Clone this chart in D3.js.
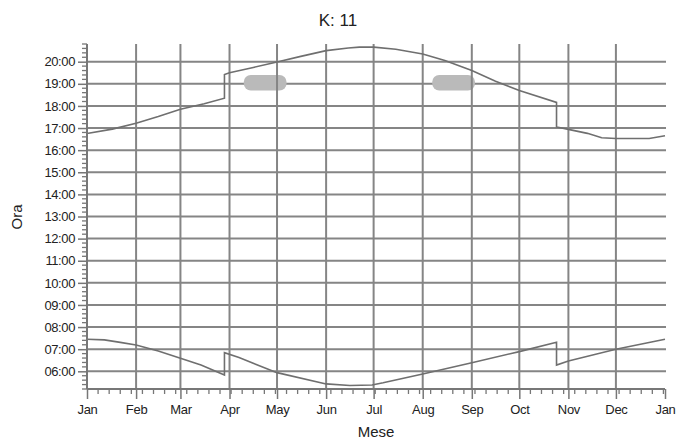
<!DOCTYPE html>
<html><head><meta charset="utf-8">
<script src="https://cdn.jsdelivr.net/npm/d3@7"></script>
<style>body{margin:0;background:#fff}text{font-family:"Liberation Sans",Arial,sans-serif;fill:#222}</style>
</head><body><svg id="c" width="680" height="441"></svg>
<script>
const titleText = "K: 11";
const xTitle = "Mese";
const yTitle = "Ora";
const monthLabels = ["Jan","Feb","Mar","Apr","May","Jun","Jul","Aug","Sep","Oct","Nov","Dec","Jan"];
const monthStartDays = [0,31,59,90,120,151,181,212,243,273,304,334,365];
const hourTicks = [6,7,8,9,10,11,12,13,14,15,16,17,18,19,20];

const sunsetDays  = [0,16,31,45,59,74,86.8,86.8,90,105,120,135,151,165,172,181,195,212,226,243,258,273,296.5,296.5,304,316,325,334,355,365];
const sunsetHours = [16.75,16.95,17.22,17.52,17.85,18.1,18.35,19.42,19.5,19.74,19.99,20.24,20.5,20.62,20.66,20.66,20.56,20.35,20.05,19.6,19.12,18.7,18.16,17.05,16.94,16.76,16.56,16.53,16.53,16.65];

const sunriseDays  = [0,11,21,31,45,59,72,86.8,86.8,96,120,151,166,180,187,212,243,273,296.5,296.5,304,334,365];
const sunriseHours = [7.45,7.42,7.31,7.19,6.92,6.59,6.28,5.83,6.84,6.62,5.94,5.43,5.36,5.38,5.48,5.88,6.39,6.89,7.31,6.28,6.47,7.0,7.45];

const bandStartDays = [99,218];
const bandEndDays   = [126,245];
const bandLowHours  = [18.7,18.7];
const bandHighHours = [19.4,19.4];

const svg = d3.select("#c");
const L = 87, R = 665, T = 44, B = 389;
const x = d3.scaleLinear().domain([0,365]).range([L,R]);
const y = d3.scaleLinear().domain([5.2,20.8]).range([B,T]);
const gridColor = "#858585";

// horizontal grid
svg.append("g").selectAll("line").data(hourTicks).join("line")
  .attr("x1",L).attr("x2",R+1).attr("y1",d=>y(d)).attr("y2",d=>y(d))
  .attr("stroke",gridColor).attr("stroke-width",2);

// bands
svg.append("g").selectAll("rect").data(bandStartDays).join("rect")
  .attr("x",(d,i)=>x(d)).attr("width",(d,i)=>x(bandEndDays[i])-x(d))
  .attr("y",(d,i)=>y(bandHighHours[i])).attr("height",(d,i)=>y(bandLowHours[i])-y(bandHighHours[i]))
  .attr("rx",7).attr("ry",7).attr("fill","#bababa");

// vertical grid
svg.append("g").selectAll("line").data(monthStartDays.slice(1,-1)).join("line")
  .attr("x1",d=>x(d)).attr("x2",d=>x(d)).attr("y1",T).attr("y2",B)
  .attr("stroke",gridColor).attr("stroke-width",2);

// curves
const line = d3.line().x(d=>x(d[0])).y(d=>y(d[1]));
[[sunsetDays,sunsetHours],[sunriseDays,sunriseHours]].forEach(([ds,hs])=>{
  svg.append("path").datum(ds.map((d,i)=>[d,hs[i]])).attr("d",line)
    .attr("fill","none").attr("stroke","#6f6f6f").attr("stroke-width",1.6);
});

// minor ticks
const minorY = d3.range(26,105).map(k=>k/5).filter(v=>Math.abs(v-Math.round(v))>1e-6);
const minorX = d3.range(7,365,7).filter(d=>!monthStartDays.includes(d));

// y axis
const yAxis = svg.append("g").attr("transform",`translate(${L},0)`)
  .call(d3.axisLeft(y).tickValues(hourTicks).tickSize(9).tickPadding(3)
    .tickFormat(h=>String(h).padStart(2,"0")+":00"));
yAxis.select(".domain").remove();
yAxis.selectAll("text").style("font-size","13px").attr("fill","#222").style("letter-spacing","-0.4px");
yAxis.selectAll("line").attr("stroke","#777").attr("stroke-width",1.5);
svg.append("g").selectAll("line").data(minorY).join("line")
  .attr("x1",L-5).attr("x2",L).attr("y1",d=>y(d)).attr("y2",d=>y(d))
  .attr("stroke","#777").attr("stroke-width",1.3);
svg.append("line").attr("x1",L).attr("x2",L).attr("y1",T).attr("y2",B)
  .attr("stroke","#777").attr("stroke-width",2);

// x axis
const xAxis = svg.append("g").attr("transform",`translate(0,${B})`)
  .call(d3.axisBottom(x).tickValues(monthStartDays).tickSize(10).tickPadding(6)
    .tickFormat((d,i)=>monthLabels[i]));
xAxis.select(".domain").remove();
xAxis.selectAll("text").style("font-size","13px").attr("fill","#222").style("letter-spacing","-0.3px");
xAxis.selectAll("line").attr("stroke","#777").attr("stroke-width",1.5);
svg.append("g").selectAll("line").data(minorX).join("line")
  .attr("x1",d=>x(d)).attr("x2",d=>x(d)).attr("y1",B).attr("y2",B+5)
  .attr("stroke","#777").attr("stroke-width",1.3);
svg.append("line").attr("x1",L).attr("x2",R).attr("y1",B).attr("y2",B)
  .attr("stroke","#777").attr("stroke-width",2);

// titles
svg.append("text").attr("x",338).attr("y",26).attr("text-anchor","middle")
  .style("font-size","17px").text(titleText);
svg.append("text").attr("x",(L+R)/2).attr("y",437).attr("text-anchor","middle")
  .style("font-size","15px").text(xTitle);
svg.append("text").attr("transform","translate(22,217) rotate(-90)").attr("text-anchor","middle")
  .style("font-size","15px").text(yTitle);
</script></body></html>
